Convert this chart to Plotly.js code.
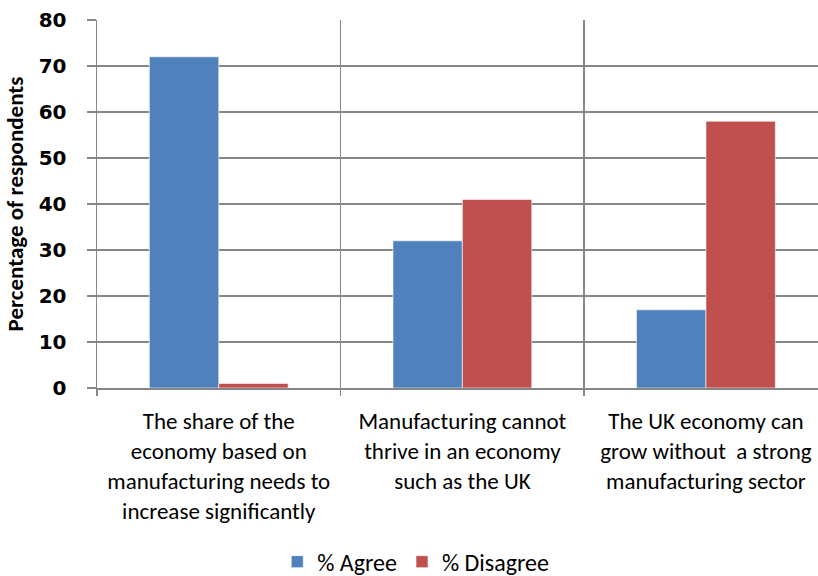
<!DOCTYPE html>
<html>
<head>
<meta charset="utf-8">
<script src="https://cdn.plot.ly/plotly-3.0.1.min.js"></script>
<style>html,body{margin:0;padding:0;background:#fff;}#chart{width:818px;height:576px;}</style>
</head>
<body>
<div id="chart"></div>
<script>
const categoryLines = [
  ["The share of the", "economy based on", "manufacturing needs to", "increase significantly"],
  ["Manufacturing cannot", "thrive in an economy", "such as the UK"],
  ["The UK economy can", "grow without  a strong", "manufacturing sector"]
];
const agree = [72, 32, 17];
const disagree = [1, 41, 58];
const seriesNames = ["% Agree", "% Disagree"];
const yTicks = [0, 10, 20, 30, 40, 50, 60, 70, 80];
const yTitle = "Percentage of respondents";

const categories = categoryLines.map(l => l.join("<br>"));

const gridColor = "#868686";
const textFont = {family: "Carlito, 'Liberation Sans', sans-serif", size: 23, color: "#000"};

const traces = [
  {type: "bar", name: seriesNames[0], x: categories, y: agree,
   marker: {color: "#4F81BD", line: {color: "rgba(255,255,255,0.6)", width: 1}}},
  {type: "bar", name: seriesNames[1], x: categories, y: disagree,
   marker: {color: "#C0504D", line: {color: "rgba(255,255,255,0.6)", width: 1}}}
];

const layout = {
  width: 818, height: 576,
  margin: {l: 97, r: 0, t: 20, b: 188, autoexpand: false},
  paper_bgcolor: "#fff", plot_bgcolor: "#fff",
  barmode: "group", bargap: 0.43, bargroupgap: 0,
  showlegend: true,
  legend: {orientation: "h", x: 0.25, xanchor: "left", y: -0.473, yanchor: "middle",
           font: {family: "Carlito, 'Liberation Sans', sans-serif", size: 24, color: "#000"},
           itemwidth: 30, tracegroupgap: 0},
  xaxis: {type: "category", range: [-0.5, 2.46], tickson: "boundaries", automargin: false,
          showgrid: true, gridcolor: gridColor, gridwidth: 1.5,
          showline: true, linecolor: gridColor, linewidth: 1.5,
          ticks: "outside", ticklen: 6, tickcolor: gridColor, tickwidth: 1.5,
          tickfont: textFont, tickangle: 0, ticklabelstandoff: 12},
  yaxis: {range: [0, 80], tickvals: yTicks, ticktext: yTicks.map(String), automargin: false,
          showgrid: true, gridcolor: gridColor, gridwidth: 1.5, zeroline: false,
          showline: true, linecolor: gridColor, linewidth: 1.5,
          ticks: "outside", ticklen: 9, tickcolor: gridColor, tickwidth: 1.5,
          ticklabelstandoff: 16,
          tickfont: {family: "DejaVu Sans", size: 20, weight: "bold", color: "#000"},
          title: {text: yTitle, standoff: 8,
                  font: {family: "Carlito, 'Liberation Sans', sans-serif", size: 23, weight: "bold", color: "#000"}}}
};

Plotly.newPlot("chart", traces, layout, {displayModeBar: false, staticPlot: true});
</script>
</body>
</html>
